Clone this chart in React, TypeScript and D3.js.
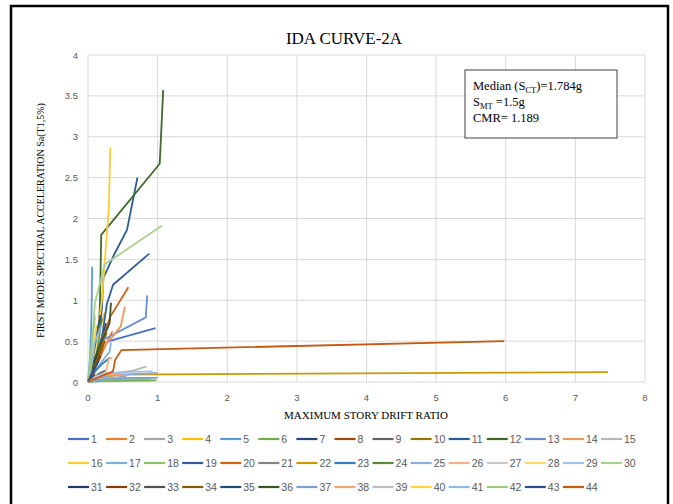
import React from "react";
import * as d3 from "d3";

// record names (legend labels)
const recordNames = d3.range(1, 45).map((i) => String(i));

// Excel-style series colours
const seriesColors = [
  "#4472C4", "#ED7D31", "#A5A5A5", "#FFC000", "#5B9BD5", "#70AD47",
  "#264478", "#9E480E", "#636363", "#997300", "#255E91", "#43682B",
  "#698ED0", "#F1975A", "#B7B7B7", "#FFCD33", "#7CAFDD", "#8CC168",
  "#335AA1", "#D26012", "#848484", "#CC9A00", "#327DC2", "#5A8A39",
  "#8FAADC", "#F4B183", "#C9C9C9", "#FFD966", "#9DC3E6", "#A9D18E",
  "#203864", "#843C0C", "#525252", "#806000", "#1F4E79", "#385723",
  "#7C9FD6", "#F3A475", "#BFBFBF", "#FFD43B", "#8CBBE3", "#9BCB7A",
  "#2E4F8E", "#C55A11",
];

// maximum story drift ratio per record
const drift = [
  [0, 0.03, 0.08, 0.15, 0.3, 0.97],
  [0, 0.05, 0.12, 0.2, 0.28, 0.35],
  [0, 0.1, 0.3, 0.55],
  [0, 0.04, 0.1, 0.17, 0.24],
  [0, 0.03, 0.05, 0.06],
  [0, 0.2, 0.5, 0.98],
  [0, 0.06, 0.12, 0.2, 0.26],
  [0, 0.05, 0.1, 0.18, 0.24],
  [0, 0.08, 0.15, 0.25],
  [0, 0.06, 0.13, 0.2, 0.27],
  [0, 0.08, 0.15, 0.2, 0.22, 0.37, 0.56, 0.71],
  [0, 0.08, 0.14, 0.17, 0.19, 1.03, 1.08],
  [0, 0.05, 0.1, 0.16, 0.83, 0.85],
  [0, 0.08, 0.2, 0.35, 0.47, 0.53],
  [0, 0.2, 0.4, 0.65, 0.84],
  [0, 0.06, 0.12, 0.2, 0.3, 0.32],
  [0, 0.1, 0.2, 0.31, 0.33],
  [0, 0.15, 0.4, 0.9],
  [0, 0.08, 0.15, 0.21, 0.27, 0.36, 0.88],
  [0, 0.07, 0.15, 0.22, 0.32, 0.58],
  [0, 0.1, 0.2, 0.3],
  [0, 0.15, 0.45, 7.47],
  [0, 0.05, 0.12, 0.2, 0.32],
  [0, 0.05, 0.1, 0.15, 0.2],
  [0, 0.1, 0.3, 0.7, 1.0],
  [0, 0.1, 0.25, 0.3, 0.35],
  [0, 0.1, 0.25, 0.45],
  [0, 0.05, 0.1, 0.15],
  [0, 0.08, 0.2, 0.5, 0.93],
  [0, 0.05, 0.1, 0.24, 1.06],
  [0, 0.05, 0.1, 0.15],
  [0, 0.06, 0.12, 0.18],
  [0, 0.05, 0.1],
  [0, 0.06, 0.14, 0.22],
  [0, 0.04, 0.09, 0.14, 0.18],
  [0, 0.1, 0.2, 0.31, 0.33],
  [0, 0.1, 0.3, 0.6, 1.0],
  [0, 0.1, 0.2, 0.5],
  [0, 0.1, 0.2],
  [0, 0.04, 0.08, 0.12],
  [0, 0.05, 0.1, 0.2],
  [0, 0.03, 0.06, 0.1],
  [0, 0.04, 0.1, 0.15],
  [0, 0.1, 0.36, 0.39, 0.48, 5.98],
];

// Sa(T1,5%) per record (g)
const sa = [
  [0, 0.1, 0.25, 0.4, 0.5, 0.66],
  [0, 0.08, 0.2, 0.35, 0.5, 0.62],
  [0, 0.03, 0.05, 0.07],
  [0, 0.15, 0.4, 0.65, 0.85],
  [0, 0.3, 0.8, 1.41],
  [0, 0.01, 0.015, 0.02],
  [0, 0.15, 0.35, 0.55, 0.72],
  [0, 0.1, 0.22, 0.35, 0.5],
  [0, 0.05, 0.1, 0.14],
  [0, 0.12, 0.3, 0.45, 0.6],
  [0, 0.25, 0.55, 0.9, 1.27, 1.55, 1.86, 2.5],
  [0, 0.2, 0.5, 0.9, 1.8, 2.67, 3.57],
  [0, 0.15, 0.35, 0.49, 0.79, 1.06],
  [0, 0.2, 0.42, 0.55, 0.68, 0.92],
  [0, 0.08, 0.11, 0.14, 0.19],
  [0, 0.2, 0.5, 1.0, 2.15, 2.87],
  [0, 0.12, 0.25, 0.37, 0.48],
  [0, 0.02, 0.03, 0.04],
  [0, 0.15, 0.3, 0.6, 0.95, 1.19, 1.57],
  [0, 0.15, 0.35, 0.55, 0.8, 1.16],
  [0, 0.04, 0.06, 0.08],
  [0, 0.05, 0.09, 0.12],
  [0, 0.08, 0.15, 0.22, 0.3],
  [0, 0.1, 0.28, 0.5, 0.78],
  [0, 0.04, 0.08, 0.1, 0.11],
  [0, 0.04, 0.1, 0.28, 0.3],
  [0, 0.02, 0.04, 0.06],
  [0, 0.12, 0.35, 0.6],
  [0, 0.06, 0.1, 0.12, 0.13],
  [0, 0.4, 0.97, 1.44, 1.91],
  [0, 0.1, 0.25, 0.4],
  [0, 0.1, 0.2, 0.32],
  [0, 0.05, 0.1],
  [0, 0.12, 0.3, 0.45],
  [0, 0.15, 0.4, 0.65, 0.82],
  [0, 0.3, 0.5, 0.72, 0.97],
  [0, 0.02, 0.04, 0.05, 0.05],
  [0, 0.05, 0.08, 0.1],
  [0, 0.05, 0.08],
  [0, 0.15, 0.4, 0.7],
  [0, 0.2, 0.5, 0.7],
  [0, 0.2, 0.5, 0.8],
  [0, 0.08, 0.18, 0.25],
  [0, 0.04, 0.13, 0.27, 0.39, 0.5],
];

const xTicks = [0, 1, 2, 3, 4, 5, 6, 7, 8];
const yTicks = [0, 0.5, 1, 1.5, 2, 2.5, 3, 3.5, 4];

const W = 673;
const H = 504;
const plot = { left: 88, right: 645, top: 55, bottom: 382 };
const serif = "'Liberation Serif', 'Times New Roman', serif";
const sans = "'Liberation Sans', Arial, sans-serif";

export default function App() {
  const x = d3.scaleLinear().domain([0, 8]).range([plot.left, plot.right]);
  const y = d3.scaleLinear().domain([0, 4]).range([plot.bottom, plot.top]);

  const line = d3
    .line<[number, number]>()
    .x((d) => x(d[0]))
    .y((d) => y(d[1]));

  const series = recordNames.map((name, i) => ({
    name,
    color: seriesColors[i],
    points: drift[i].map((dx, j) => [dx, sa[i][j]] as [number, number]),
  }));

  // legend: 15 per row
  const perRow = 15;
  const legX0 = 68;
  const legStep = 38.07;
  const legY0 = 439;
  const legRowH = 24;

  return (
    <svg
      width={W}
      height={H}
      style={{ position: "absolute", left: 0, top: 0, background: "#fff" }}
    >
      <rect x={0} y={0} width={W} height={H} fill="#fff" />
      <rect x={11} y={6} width={657} height={510} fill="none" stroke="#000" strokeWidth={2.5} />

      <text x={344} y={44} textAnchor="middle" fontFamily={serif} fontSize={17} fill="#000">
        IDA CURVE-2A
      </text>

      {/* gridlines */}
      {yTicks.map((t) => (
        <line key={"gy" + t} x1={plot.left} x2={plot.right} y1={y(t)} y2={y(t)} stroke="#D9D9D9" strokeWidth={1} />
      ))}
      {xTicks.map((t) => (
        <line key={"gx" + t} x1={x(t)} x2={x(t)} y1={plot.top} y2={plot.bottom} stroke="#D9D9D9" strokeWidth={1} />
      ))}

      {/* tick labels */}
      {yTicks.map((t) => (
        <text key={"ty" + t} x={78} y={y(t) + 3.5} textAnchor="end" fontFamily={sans} fontSize={9.5} fill="#595959">
          {t}
        </text>
      ))}
      {xTicks.map((t) => (
        <text key={"tx" + t} x={x(t)} y={401} textAnchor="middle" fontFamily={sans} fontSize={9.5} fill="#595959">
          {t}
        </text>
      ))}

      {/* curves */}
      <g>
        {series.map((s) => (
          <path
            key={s.name}
            d={line(s.points) || ""}
            fill="none"
            stroke={s.color}
            strokeWidth={1.8}
            strokeLinejoin="round"
          />
        ))}
      </g>

      {/* axis titles */}
      <text x={366} y={419} textAnchor="middle" fontFamily={serif} fontSize={11} fill="#000">
        MAXIMUM STORY DRIFT RATIO
      </text>
      <text
        transform={`translate(44,${(plot.top + plot.bottom) / 2 + 2}) rotate(-90)`}
        textAnchor="middle"
        fontFamily={serif}
        fontSize={10}
        fill="#000"
      >
        FIRST MODE SPECTRAL ACCELERATION Sa(T1,5%)
      </text>

      {/* annotation box */}
      <rect x={465} y={70} width={152} height={68} fill="#fff" stroke="#404040" strokeWidth={1} />
      <text fontFamily={serif} fontSize={12.5} fill="#000">
        <tspan x={473} y={90}>Median (S</tspan>
        <tspan fontSize={8.5} dy={3}>CT</tspan>
        <tspan dy={-3}>)=1.784g</tspan>
        <tspan x={473} y={106}>S</tspan>
        <tspan fontSize={8.5} dy={3}>MT</tspan>
        <tspan dy={-3}> =1.5g</tspan>
        <tspan x={473} y={122}>CMR= 1.189</tspan>
      </text>

      {/* legend */}
      {series.map((s, i) => {
        const row = Math.floor(i / perRow);
        const col = i % perRow;
        const lx = legX0 + col * legStep;
        const ly = legY0 + row * legRowH;
        return (
          <g key={"leg" + s.name}>
            <line x1={lx} x2={lx + 21} y1={ly} y2={ly} stroke={s.color} strokeWidth={2.2} />
            <text x={lx + 23} y={ly + 4} fontFamily={sans} fontSize={10.5} fill="#595959">
              {s.name}
            </text>
          </g>
        );
      })}
    </svg>
  );
}
